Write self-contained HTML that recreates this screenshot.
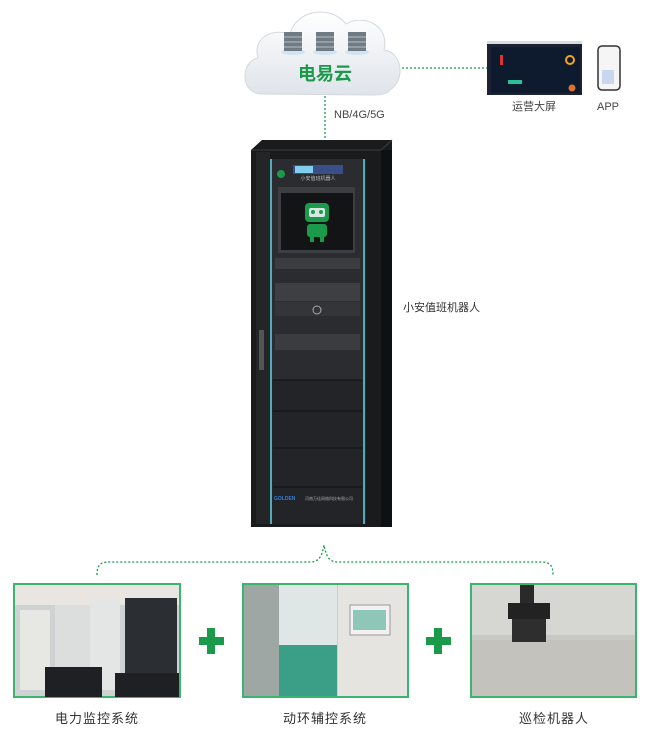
<!DOCTYPE html>
<html><head><meta charset="utf-8"><style>
html,body{margin:0;padding:0;background:#fff;width:651px;height:731px;overflow:hidden}
svg{display:block}
text{font-family:"Liberation Sans","Noto Sans CJK SC",sans-serif}
</style></head><body>
<svg width="651" height="731" viewBox="0 0 651 731">
<defs>
<linearGradient id="cl" x1="0" y1="0" x2="0" y2="1"><stop offset="0" stop-color="#ffffff"/><stop offset="1" stop-color="#dfe4ea"/></linearGradient>
</defs>
<!-- cloud -->
<path d="M262,94 C240,94 240,62 258,58 C252,38 272,28 290,34 C296,10 330,4 346,24 C362,14 390,24 384,50 C402,52 406,80 390,90 C388,94 380,95 372,95 Z" fill="url(#cl)" stroke="#d3d9df" stroke-width="1"/>
<g fill="#cfe3f3"><ellipse cx="293" cy="52" rx="12" ry="3"/><ellipse cx="325" cy="52" rx="12" ry="3"/><ellipse cx="357" cy="52" rx="12" ry="3"/></g>
<g fill="#6f7a82">
<rect x="284" y="32" width="18" height="19"/><rect x="316" y="32" width="18" height="19"/><rect x="348" y="32" width="18" height="19"/>
</g>
<g stroke="#b7c0c7" stroke-width="1"><line x1="284" y1="37" x2="302" y2="37"/><line x1="284" y1="42" x2="302" y2="42"/><line x1="284" y1="47" x2="302" y2="47"/><line x1="316" y1="37" x2="334" y2="37"/><line x1="316" y1="42" x2="334" y2="42"/><line x1="316" y1="47" x2="334" y2="47"/><line x1="348" y1="37" x2="366" y2="37"/><line x1="348" y1="42" x2="366" y2="42"/><line x1="348" y1="47" x2="366" y2="47"/></g>
<text x="325" y="80" text-anchor="middle" font-size="18" font-weight="bold" fill="#1a9a4a">电易云</text>
<!-- connectors -->
<g stroke="#1a9a4a" stroke-width="1.3" stroke-dasharray="2,2" fill="none">
<line x1="402" y1="68" x2="487" y2="68"/>
<line x1="325" y1="96" x2="325" y2="140"/>
<path d="M97,575 C97,565 100,562 110,562 L310,562 C320,562 322,555 324,545 C326,555 328,562 338,562 L540,562 C550,562 553,565 553,575"/>
</g>
<text x="334" y="118" font-size="11" fill="#444">NB/4G/5G</text>
<!-- screen -->
<rect x="487" y="41" width="95" height="54" fill="#1c2433"/>
<rect x="491" y="47" width="89" height="46" fill="#0e1a2e"/>
<rect x="487" y="41" width="95" height="3" fill="#d9dde3"/>
<circle cx="570" cy="60" r="4" fill="none" stroke="#f1a51f" stroke-width="2"/>
<rect x="500" y="55" width="3" height="10" fill="#d33"/><rect x="508" y="80" width="14" height="4" fill="#2bc09a"/><circle cx="572" cy="88" r="3.5" fill="#e07030"/>
<text x="534" y="110" text-anchor="middle" font-size="11" fill="#444">运营大屏</text>
<rect x="598" y="46" width="22" height="44" rx="4" fill="#f5f5f5" stroke="#333" stroke-width="1.5"/>
<rect x="602" y="70" width="12" height="14" fill="#c9d6ef"/>
<text x="608" y="110" text-anchor="middle" font-size="11" fill="#444">APP</text>
<!-- cabinet -->
<path d="M251,150 L262,140 L392,140 L392,527 L251,527 Z" fill="#1a1b1d"/>
<path d="M251,150 L381,150 L392,140" fill="none" stroke="#3a3d40"/>
<rect x="381" y="150" width="11" height="377" fill="#0f1011"/>
<rect x="256" y="152" width="14" height="372" fill="#232527"/>
<rect x="270" y="159" width="96" height="365" fill="#2a2c2f"/>
<rect x="272" y="380" width="92" height="144" fill="#232427"/>
<line x1="271" y1="159" x2="271" y2="524" stroke="#5cd6e6" stroke-width="1.5"/>
<line x1="364" y1="159" x2="364" y2="524" stroke="#5cd6e6" stroke-width="1.5"/>
<rect x="293" y="165" width="50" height="9" fill="#3a4f8a"/>
<rect x="295" y="166" width="18" height="7" fill="#7fd0ef"/>
<circle cx="281" cy="174" r="4" fill="#1a9a4a"/>
<text x="318" y="180" text-anchor="middle" font-size="5" fill="#bbb">小安值班机器人</text>
<rect x="278" y="187" width="77" height="66" fill="#3c3e41"/>
<rect x="281" y="193" width="72" height="57" fill="#131416"/>
<rect x="305" y="203" width="24" height="19" rx="4" fill="#1a9a4a"/>
<rect x="309" y="208" width="16" height="9" rx="2" fill="#d8e8e0"/>
<circle cx="313" cy="212" r="2" fill="#1a9a4a"/><circle cx="321" cy="212" r="2" fill="#1a9a4a"/>
<rect x="307" y="224" width="20" height="13" rx="3" fill="#1a9a4a"/>
<rect x="310" y="237" width="4" height="5" fill="#1a9a4a"/><rect x="320" y="237" width="4" height="5" fill="#1a9a4a"/>
<rect x="275" y="258" width="85" height="11" fill="#3a3c3f"/>
<rect x="275" y="283" width="85" height="18" fill="#3d3f42"/>
<rect x="275" y="302" width="85" height="14" fill="#333538"/>
<circle cx="317" cy="310" r="4" fill="none" stroke="#aaa"/>
<rect x="275" y="334" width="85" height="16" fill="#3a3c3f"/>
<g stroke="#111" stroke-width="1"><line x1="273" y1="380" x2="362" y2="380"/><line x1="273" y1="411" x2="362" y2="411"/><line x1="273" y1="448" x2="362" y2="448"/><line x1="273" y1="487" x2="362" y2="487"/></g>
<text x="274" y="500" font-size="5" fill="#3a7bd5" font-weight="bold">GOLDEN</text>
<text x="305" y="500" font-size="4" fill="#aaa">河南万佳网络科技有限公司</text>
<rect x="259" y="330" width="5" height="40" fill="#555"/>
<text x="403" y="311" font-size="11" fill="#333">小安值班机器人</text>
<!-- photos -->
<g stroke="#3db46d" stroke-width="2">
<rect x="14" y="584" width="166" height="113" fill="#cfd2d3"/>
<rect x="243" y="584" width="165" height="113" fill="#c8d0cc"/>
<rect x="471" y="584" width="165" height="113" fill="#c9c8c3"/>
</g>
<rect x="15" y="585" width="164" height="20" fill="#e9e6e2"/>
<rect x="20" y="610" width="30" height="80" fill="#e7e7e4"/><rect x="55" y="605" width="35" height="85" fill="#dcdedd"/>
<rect x="90" y="600" width="30" height="90" fill="#e4e6e6"/><rect x="125" y="598" width="52" height="92" fill="#2b2e33"/>
<rect x="45" y="667" width="57" height="30" fill="#1f2024"/><rect x="115" y="673" width="64" height="24" fill="#1f2024"/>
<rect x="244" y="585" width="35" height="111" fill="#9ea7a4"/><rect x="279" y="585" width="58" height="60" fill="#dfe6e6"/>
<rect x="279" y="645" width="58" height="51" fill="#3a9f86"/>
<rect x="338" y="585" width="69" height="111" fill="#e6e4e0"/>
<rect x="350" y="605" width="40" height="30" fill="#f1f1f1" stroke="#999"/><rect x="353" y="610" width="33" height="20" fill="#8ec6b8"/>
<rect x="472" y="585" width="163" height="50" fill="#d6d6d3"/>
<rect x="472" y="640" width="163" height="56" fill="#c4c2bd"/>
<rect x="520" y="585" width="14" height="20" fill="#2a2a2a"/>
<rect x="508" y="603" width="42" height="16" fill="#222"/>
<rect x="512" y="619" width="34" height="23" fill="#2e2e2e"/>
<g fill="#1a9a4a"><rect x="199" y="637" width="25" height="8"/><rect x="207" y="628" width="8" height="26"/>
<rect x="426" y="637" width="25" height="8"/><rect x="434" y="628" width="8" height="26"/></g>
<text x="97" y="723" text-anchor="middle" font-size="13" fill="#333" letter-spacing="1">电力监控系统</text>
<text x="325" y="723" text-anchor="middle" font-size="13" fill="#333" letter-spacing="1">动环辅控系统</text>
<text x="554" y="723" text-anchor="middle" font-size="13" fill="#333" letter-spacing="1">巡检机器人</text>
</svg>
</body></html>
